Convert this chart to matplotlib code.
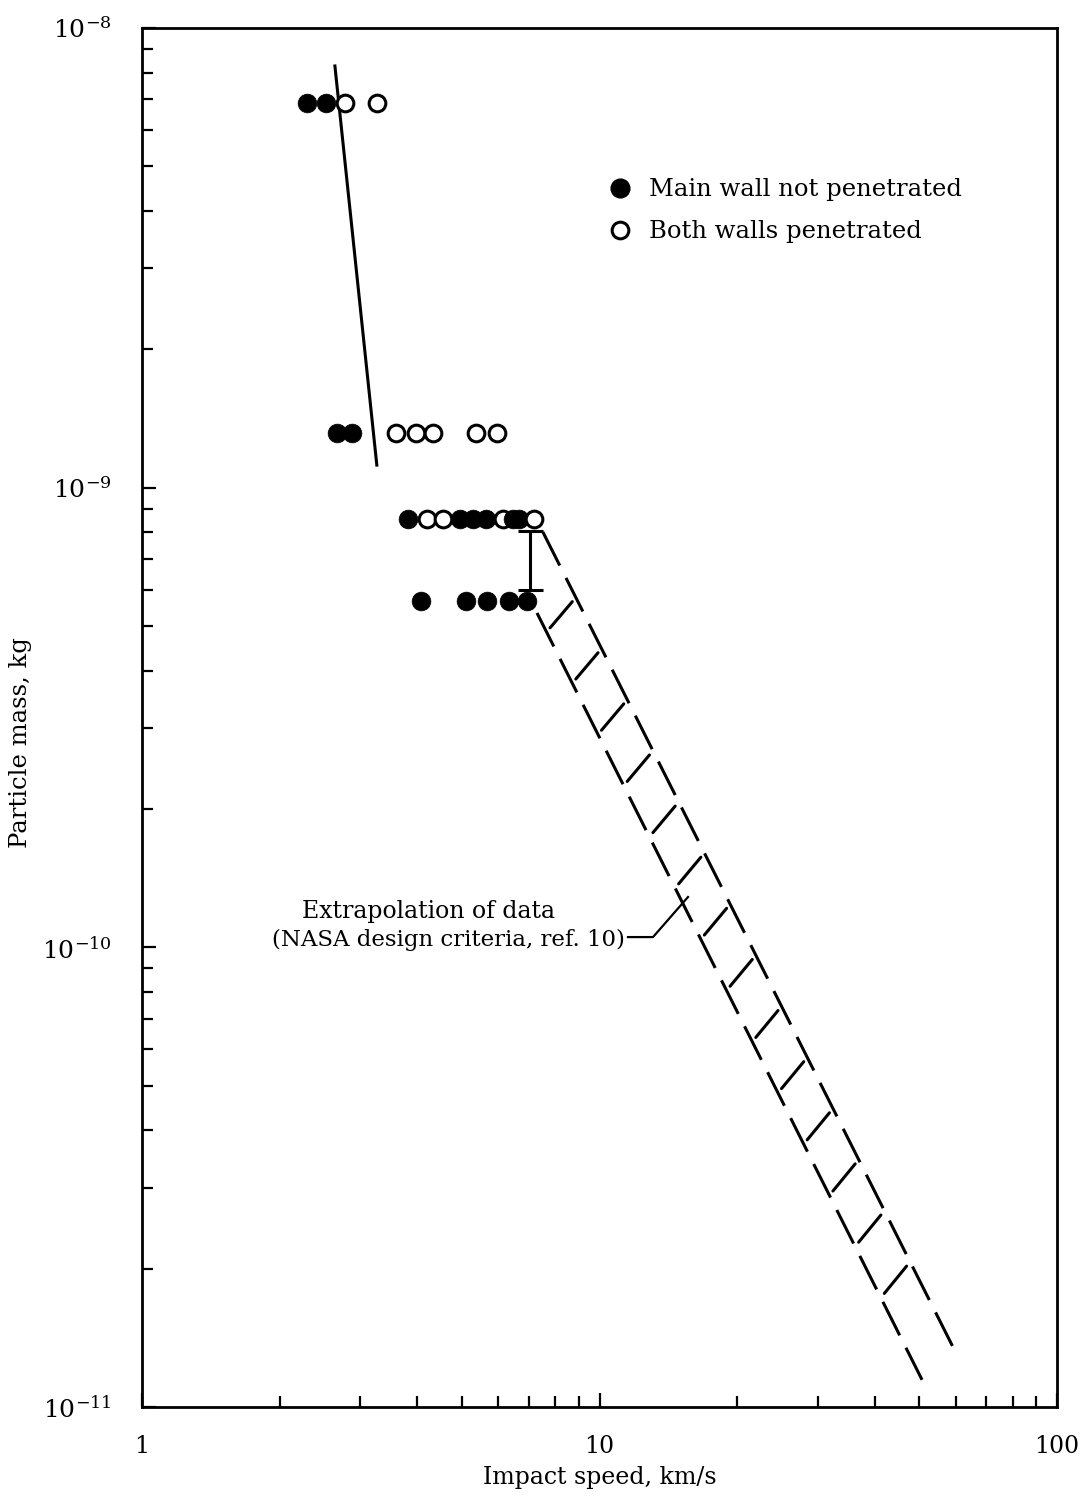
import numpy as np
import matplotlib
matplotlib.use('Agg')
import matplotlib.pyplot as plt
from matplotlib.lines import Line2D
from matplotlib.ticker import NullFormatter, FixedLocator, FixedFormatter

plt.rcParams['font.family'] = ['DejaVu Serif']
plt.rcParams['mathtext.fontset'] = 'dejavuserif'
plt.rcParams['lines.scale_dashes'] = False

# Test points, left to right within each mass row
speed_kms = [2.29, 2.53, 2.78, 3.26,
             2.67, 2.88, 3.59, 3.97, 4.33, 5.37, 5.97,
             3.81, 4.20, 4.55, 4.96, 5.29, 5.65, 6.15, 6.47, 6.67, 7.19,
             4.07, 5.11, 5.68, 6.34, 6.94]
mass_kg = [6.87e-9] * 4 + [1.315e-9] * 7 + [8.55e-10] * 10 + [5.67e-10] * 5
both_walls = [False, False, True, True,
              False, False, True, True, True, True, True,
              False, True, True, False, False, False, True, False, False, True,
              False, False, False, False, False]

# Ballistic limit fit through the low-speed data
fit_speed = [2.64, 3.26]
fit_mass = [8.27e-9, 1.12e-9]

# Scatter bar between the two upper rows
bar_speed = 7.05
bar_low, bar_high = 5.99e-10, 8.05e-10

# Extrapolation band (NASA design criteria)
upper_speed = [7.52, 60.4]
upper_mass = [8.01e-10, 1.30e-11]
lower_speed = [7.30, 50.7]
lower_mass = [5.34e-10, 1.146e-11]
n_hatch = 14
hatch_first, hatch_last = 7.66, 41.2

# Leader line for the annotation
leader_speed = [11.54, 13.09, 15.61]
leader_mass = [1.053e-10, 1.053e-10, 1.287e-10]

x_ticks = [1, 10, 100]
x_labels = ['1', '10', '100']

fig = plt.figure(figsize=(10.85, 15.01), dpi=100)
ax = fig.add_axes([0.1309, 0.0626, 0.8433, 0.9187])
ax.set_xscale('log')
ax.set_yscale('log')
ax.set_xlim(1, 100)
ax.set_ylim(1e-11, 1e-8)

for i, (v, m, b) in enumerate(zip(speed_kms, mass_kg, both_walls)):
    if b:
        ax.plot(v, m, 'o', ms=12, mfc='white', mec='black', mew=2.2, zorder=3 + i * 0.01)
    else:
        ax.plot(v, m, 'o', ms=13.5, mfc='black', mec='black', mew=0.5, zorder=3 + i * 0.01)

ax.plot(fit_speed, fit_mass, color='black', lw=2.2)

mid = np.sqrt(bar_low * bar_high)
ax.errorbar([bar_speed], [mid], yerr=[[mid - bar_low], [bar_high - mid]], fmt='none',
            ecolor='black', elinewidth=2.2, capsize=9, capthick=2.2)

ax.plot(upper_speed, upper_mass, color='black', lw=2.2, dashes=(27, 10))
ax.plot(lower_speed, lower_mass, color='black', lw=2.2, dashes=(27, 10))


def on_line(xs, ys, x):
    lx = np.log10(xs)
    ly = np.log10(ys)
    t = (np.log10(x) - lx[0]) / (lx[1] - lx[0])
    return 10 ** (ly[0] + t * (ly[1] - ly[0]))


# short cross strokes between the two dashed lines
shrink = 0.12
for a in np.linspace(np.log10(hatch_first), np.log10(hatch_last), n_hatch):
    x0, x1 = 10 ** a, 10 ** (a + 0.064)
    y0 = on_line(lower_speed, lower_mass, x0)
    y1 = on_line(upper_speed, upper_mass, x1)
    lx0, lx1, ly0, ly1 = np.log10([x0, x1, y0, y1])
    sx = [lx0 + shrink * (lx1 - lx0), lx1 - shrink * (lx1 - lx0)]
    sy = [ly0 + shrink * (ly1 - ly0), ly1 - shrink * (ly1 - ly0)]
    ax.plot(10 ** np.array(sx), 10 ** np.array(sy), color='black', lw=2.2,
            solid_capstyle='round')

ax.plot(leader_speed, leader_mass, color='black', lw=1.6)
ax.text(4.22, 1.194e-10, 'Extrapolation of data', fontsize=17, ha='center', va='center')
ax.text(11.37, 1.038e-10, '(NASA design criteria, ref. 10)', fontsize=16.5,
        ha='right', va='center')

handles = [Line2D([], [], ls='none', marker='o', ms=13.5, mfc='black', mec='black'),
           Line2D([], [], ls='none', marker='o', ms=12, mfc='white', mec='black', mew=2.2)]
ax.legend(handles, ['Main wall not penetrated', 'Both walls penetrated'],
          loc='upper left', bbox_to_anchor=(0.510, 0.891), frameon=False, fontsize=17.5,
          borderpad=0, borderaxespad=0, handlelength=0.9, handletextpad=0.75,
          labelspacing=0.78)

for s in ax.spines.values():
    s.set_linewidth(2)
ax.xaxis.set_major_locator(FixedLocator(x_ticks))
ax.xaxis.set_major_formatter(FixedFormatter(x_labels))
ax.tick_params(which='both', direction='in', top=False, right=False, width=1.6)
ax.tick_params(which='major', length=10, labelsize=17)
ax.tick_params(axis='x', which='major', pad=20)
ax.tick_params(axis='y', which='major', pad=22, labelsize=18)
ax.tick_params(which='minor', length=8)
ax.xaxis.set_minor_formatter(NullFormatter())
ax.yaxis.set_minor_formatter(NullFormatter())

ax.set_xlabel('Impact speed, km/s', fontsize=17)
ax.set_ylabel('Particle mass, kg', fontsize=17.5)
ax.xaxis.set_label_coords(0.5, -0.043)
ax.yaxis.set_label_coords(-0.12, 0.482)

fig.savefig('out.png', dpi=100)
